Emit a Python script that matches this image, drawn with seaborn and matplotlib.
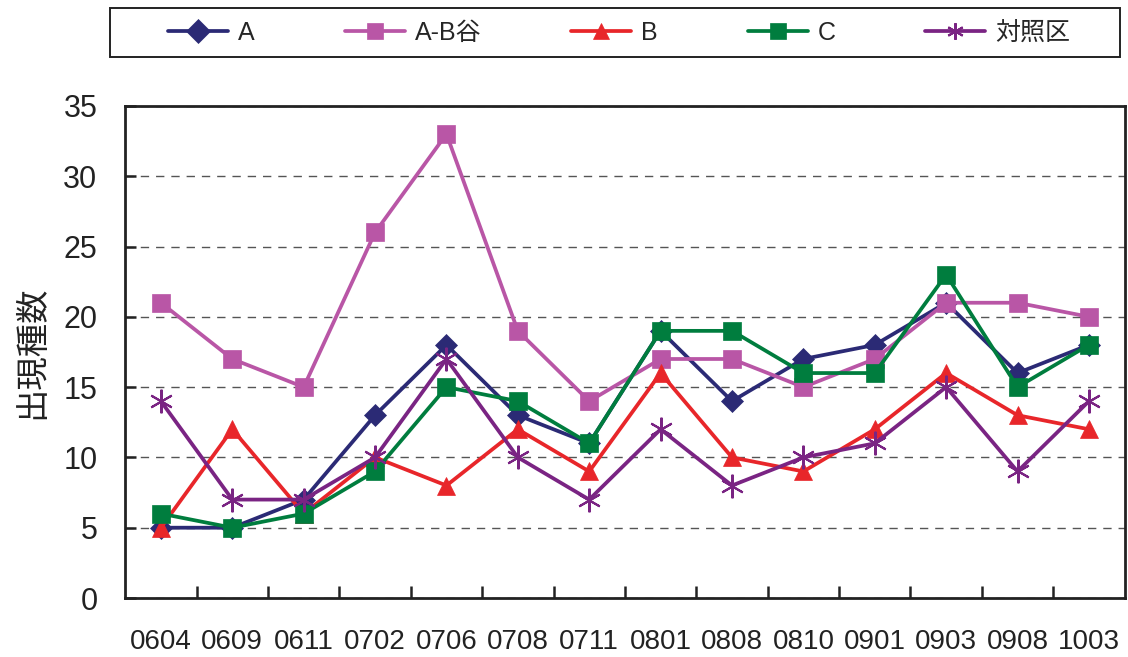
import matplotlib
matplotlib.use("Agg")
import matplotlib.pyplot as plt
from matplotlib.patches import Rectangle
import seaborn as sns
import numpy as np

# Survey dates (yymm) and species counts per plot
dates = ["0604", "0609", "0611", "0702", "0706", "0708", "0711",
         "0801", "0808", "0810", "0901", "0903", "0908", "1003"]
series_names = ["A", "A-B谷", "B", "C", "対照区"]
vals_A = [5, 5, 7, 13, 18, 13, 11, 19, 14, 17, 18, 21, 16, 18]
vals_AB = [21, 17, 15, 26, 33, 19, 14, 17, 17, 15, 17, 21, 21, 20]
vals_B = [5, 12, 6, 10, 8, 12, 9, 16, 10, 9, 12, 16, 13, 12]
vals_C = [6, 5, 6, 9, 15, 14, 11, 19, 19, 16, 16, 23, 15, 18]
vals_ctrl = [14, 7, 7, 10, 17, 10, 7, 12, 8, 10, 11, 15, 9, 14]

sns.set_theme(style="white")
plt.rcParams["font.family"] = ["Liberation Sans", "Noto Sans CJK JP", "DejaVu Sans"]

fig = plt.figure(figsize=(11.28, 6.57), dpi=100)
ax = fig.add_axes([0.111, 0.0898, 0.886, 0.749])

ASTERISK = (6, 2, 0)
styles = [
    (vals_A, "#2B2A75", "D", 11),
    (vals_AB, "#B956A6", "s", 12.5),
    (vals_B, "#E8262A", "^", 13),
    (vals_C, "#007D3E", "s", 12.5),
    (vals_ctrl, "#7A2483", ASTERISK, 17),
]

x = np.arange(len(dates))
for name, (vals, color, marker, ms) in zip(series_names, styles):
    sns.lineplot(x=x, y=vals, ax=ax, color=color, marker=marker,
                 markersize=ms, linewidth=2.7, label=name,
                 markeredgecolor=color,
                 markeredgewidth=1.5 if marker == ASTERISK else 0.5,
                 zorder=3)

ax.set_xlim(-0.5, len(dates) - 0.5)
ax.set_ylim(0, 35)
ax.set_yticks(np.arange(0, 36, 5))
ax.set_xticks(x)
ax.set_xticklabels(dates)
ax.set_xticks(np.arange(0.5, len(dates) - 1, 1.0), minor=True)

ax.tick_params(axis="x", which="major", length=0, pad=22, labelsize=20, colors="#222222")
ax.tick_params(axis="x", which="minor", direction="in", length=9, width=1.8,
               color="#222222", bottom=True)
ax.tick_params(axis="y", which="major", direction="in", length=8, width=1.8,
               color="#222222", pad=20, labelsize=22, labelcolor="#222222", left=True)

ax.yaxis.grid(True, linestyle=(0, (6, 5)), color="#555555", linewidth=1.0)
ax.set_axisbelow(True)
for sp in ax.spines.values():
    sp.set_visible(True)
    sp.set_color("#222222")
    sp.set_linewidth(2.0)

ax.set_ylabel("出現種数", fontsize=24, labelpad=11, color="#222222")
ax.set_xlabel("")

# Legend across the top, inside a separate frame
handles, labels = ax.get_legend_handles_labels()
ax.get_legend().remove()
fig.patches.append(Rectangle((0.0975, 0.913), 0.8955, 0.075, transform=fig.transFigure,
                             facecolor="white", edgecolor="#222222", linewidth=1.4,
                             zorder=0))
leg = fig.legend(handles, labels, loc="center", ncol=5, mode="expand",
                 bbox_to_anchor=(0.149, 0.913, 0.80, 0.075),
                 fontsize=18, frameon=False, numpoints=1, handlelength=2.4,
                 handletextpad=0.4, borderpad=0.0, borderaxespad=0.0)
for h in leg.legend_handles:
    h.set_markersize(12)

fig.savefig("out.png", dpi=100)
